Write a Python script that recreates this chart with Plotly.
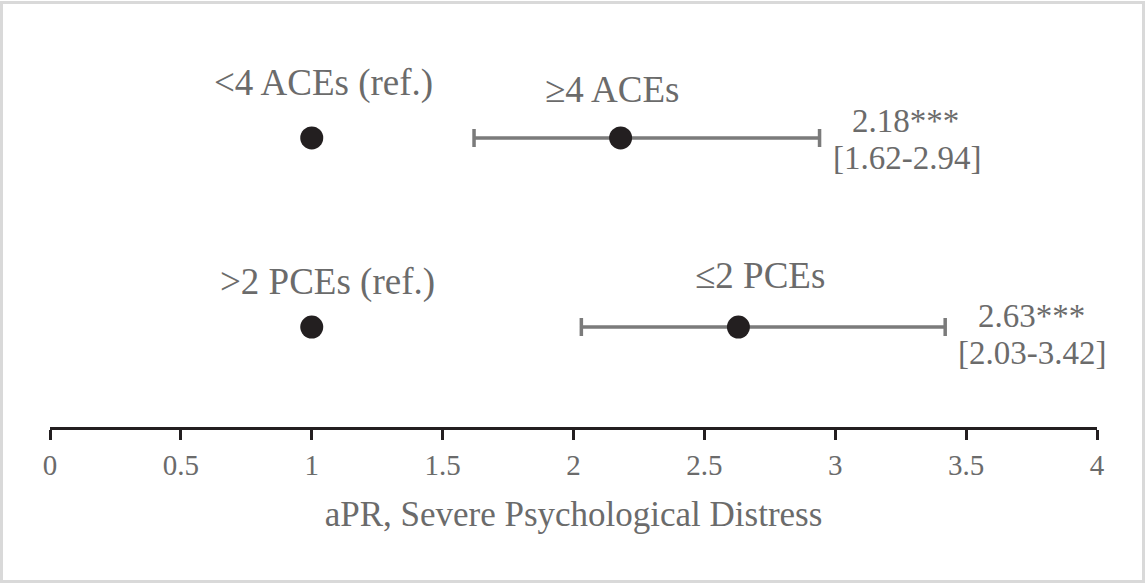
### Loading Package ###

import plotly.graph_objects as go


### Data ###

ref_labels = ["<4 ACEs (ref.)", ">2 PCEs (ref.)"]
exp_labels = ["≥4 ACEs", "≤2 PCEs"]
ref_value = [1, 1]
apr = [2.18, 2.63]
ci_low = [1.62, 2.03]
ci_high = [2.94, 3.42]
stars = ["***", "***"]
row_y = [2, 1]

tick_vals = [0, 0.5, 1, 1.5, 2, 2.5, 3, 3.5, 4]
tick_text = ["0", "0.5", "1", "1.5", "2", "2.5", "3", "3.5", "4"]
x_title = "aPR, Severe Psychological Distress"


### Styles ###

font_name = "Liberation Serif"
text_gray = "#6b6b6b"
bar_gray = "#7b7b7b"
dot_black = "#231f20"

W, H = 1146, 584
M_L, M_R, M_T, M_B = 50, 49, 0, 157
plot_w = W - M_L - M_R
plot_h = H - M_T - M_B


### Creating Figure ###

figure = go.Figure()

# Reference groups
figure.add_trace(go.Scatter(
    x = ref_value,
    y = row_y,
    mode = "markers",
    marker = dict(size = 23, color = dot_black),
    hoverinfo = "skip"
))

# Exposed groups with confidence intervals
figure.add_trace(go.Scatter(
    x = apr,
    y = row_y,
    mode = "markers",
    marker = dict(size = 23, color = dot_black),
    error_x = dict(
        type = "data",
        symmetric = False,
        array = [h - a for h, a in zip(ci_high, apr)],
        arrayminus = [a - l for a, l in zip(apr, ci_low)],
        color = bar_gray,
        thickness = 3.5,
        width = 9
    ),
    hoverinfo = "skip"
))

# Group labels (pixel offsets from the markers)
ref_shift = [(12, 55), (16, 45)]
exp_shift = [(-9, 48), (22, 52)]
est_shift = [17, 11]
int_shift = [-20, -26]
for i in range(len(row_y)):
    figure.add_annotation(
        x = ref_value[i], y = row_y[i],
        text = ref_labels[i],
        showarrow = False,
        xshift = ref_shift[i][0], yshift = ref_shift[i][1],
        font = dict(family = font_name, size = 37, color = text_gray)
    )
    figure.add_annotation(
        x = apr[i], y = row_y[i],
        text = exp_labels[i],
        showarrow = False,
        xshift = exp_shift[i][0], yshift = exp_shift[i][1],
        font = dict(family = font_name, size = 37, color = text_gray)
    )
    # Estimate and interval text
    figure.add_annotation(
        x = ci_high[i], y = row_y[i],
        text = f"{apr[i]:.2f}{stars[i]}",
        showarrow = False,
        xshift = 86, yshift = est_shift[i],
        font = dict(family = font_name, size = 33, color = text_gray)
    )
    figure.add_annotation(
        x = ci_high[i], y = row_y[i],
        text = f"[{ci_low[i]:.2f}-{ci_high[i]:.2f}]",
        showarrow = False,
        xshift = 87, yshift = int_shift[i],
        font = dict(family = font_name, size = 33, color = text_gray)
    )

# Outer frame
figure.add_shape(
    type = "rect",
    xref = "paper", yref = "paper",
    x0 = (1.5 - M_L) / plot_w, x1 = (W - 2.5 - M_L) / plot_w,
    y0 = (M_T + plot_h - (H - 2.5)) / plot_h, y1 = (M_T + plot_h - 2.5) / plot_h,
    line = dict(color = "#d9d9d9", width = 3),
    layer = "below"
)

# Updating layout
figure.update_layout(
    width = W,
    height = H,
    showlegend = False,
    paper_bgcolor = "white",
    plot_bgcolor = "white",
    margin = dict(l = M_L, r = M_R, t = M_T, b = M_B),
    xaxis = dict(
        range = [0, 4],
        tickvals = tick_vals,
        ticktext = tick_text,
        showgrid = False,
        zeroline = False,
        showline = True,
        linecolor = dot_black,
        linewidth = 3,
        ticks = "outside",
        ticklen = 10,
        tickwidth = 3,
        tickcolor = dot_black,
        tickfont = dict(family = font_name, size = 29, color = text_gray),
        title = dict(text = x_title, standoff = 22,
                     font = dict(family = font_name, size = 35, color = text_gray)),
        fixedrange = True
    ),
    yaxis = dict(
        range = [0.471, 2.730],
        visible = False,
        fixedrange = True
    )
)

figure.write_html("out.html",
                  config = {"displayModeBar": False},
                  post_script = "document.body.style.margin = '0px';")
